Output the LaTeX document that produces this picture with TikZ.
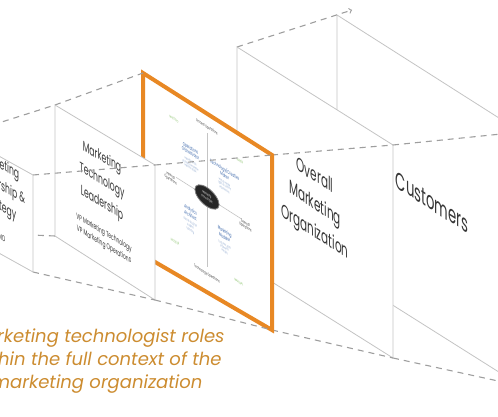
\documentclass[tikz,border=0pt]{standalone}
\usepackage{fontspec}
\setmainfont{Poppins}
\usetikzlibrary{shapes.geometric}
\definecolor{edgegray}{RGB}{196,196,196}
\definecolor{linkgray}{RGB}{158,158,158}
\definecolor{frameorange}{RGB}{232,136,36}
\definecolor{captionorange}{RGB}{204,140,48}
\definecolor{labelblue}{RGB}{52,98,168}
\definecolor{labelgreen}{RGB}{140,196,110}
\definecolor{textgray}{RGB}{55,55,55}
\begin{document}
\begin{tikzpicture}[x=1pt,y=1pt,
	panel/.style={draw=edgegray,fill=white,line width=0.8pt},
	link/.style={draw=linkgray,line width=1.1pt,dash pattern=on 6pt off 5pt},
	onplane/.style={transform shape,cm={0.55,#1,0,1,(0,0)}},
	paneltext/.style={text=textgray,align=center,inner sep=0pt},
	tiny/.style={align=center,inner sep=0pt,transform shape,font=\fontsize{#1}{#1}\selectfont}]
  %ramme
	\useasboundingbox (0,0) rectangle (498,416);
	\clip (0,0) rectangle (498,416);

  %hjoerner
	\coordinate (lead-tl) at (-39,281); \coordinate (lead-tr) at (33,241);
	\coordinate (lead-br) at (33,144);  \coordinate (lead-bl) at (-39,184);
	\coordinate (mtl-tl) at (55,311);   \coordinate (mtl-tr) at (155,251);
	\coordinate (mtl-br) at (155,116);  \coordinate (mtl-bl) at (55,180);
	\coordinate (roles-tl) at (143,343); \coordinate (roles-tr) at (272,261);
	\coordinate (roles-br) at (272,86);  \coordinate (roles-bl) at (143,161);
	\coordinate (org-tl) at (237,369);  \coordinate (org-tr) at (393,271);
	\coordinate (org-br) at (393,58);   \coordinate (org-bl) at (237,156);
	\coordinate (cust-tl) at (337,401); \coordinate (cust-tr) at (521,284);
	\coordinate (cust-br) at (521,30);  \coordinate (cust-bl) at (337,146);
	\coordinate (tip) at (352,406);

  %kunder
	\filldraw[panel] (cust-tl) -- (cust-tr) -- (cust-br) -- (cust-bl) -- cycle;
	\node[paneltext,onplane=-0.35,font=\fontsize{24}{28}\selectfont] (custtxt) at (432,214) {Customers};

  %stiplet kunder-org
	\draw[link,->] (org-tl) -- (tip);
	\draw[link] (org-tr) -- (cust-tr);
	\draw[link] (org-br) -- (cust-br);
	\draw[link] (org-bl) -- (cust-bl);

  %organisation
	\filldraw[panel] (org-tl) -- (org-tr) -- (org-br) -- (org-bl) -- cycle;
	\node[paneltext,onplane=-0.35,font=\fontsize{19}{28}\selectfont] (orgtxt) at (315,211) {Overall\\Marketing\\Organization};

  %stiplet org-roller
	\draw[link] (roles-tr) -- (org-tr);
	\draw[link] (roles-br) -- (org-br);
	\draw[link] (roles-bl) -- (org-bl);

  %roller (orange)
	\filldraw[draw=frameorange,fill=white,line width=4pt,line join=miter] (roles-tl) -- (roles-tr) -- (roles-br) -- (roles-bl) -- cycle;
	\begin{scope}[cm={0.55,-0.35,0,1,(207,219)}]
		\draw[edgegray,line width=0.6pt] (0,64) -- (0,-70);
		\draw[edgegray,line width=0.6pt] (-56,0) -- (62,0);
		\node[ellipse,fill=black!85,draw=gray,line width=0.8pt,minimum width=44,minimum height=19,tiny=3.2,text=white] (hub) at (0,0) {Marketing\\Technologist};
		\node[tiny=4,text=textgray] (top) at (0,70) {Process Operations};
		\node[tiny=4,text=textgray] (bottom) at (0,-77) {Technology Operations};
		\node[tiny=4,text=textgray] (left) at (-66,-4) {Internal\\Operations};
		\node[tiny=4,text=textgray] (right) at (70,-4) {External\\Operations};
		\node[tiny=5,text=labelblue] (q1) at (-30,36) {Operations\\Orchestrator};
		\node[tiny=3,text=labelblue!60] (q1sub) at (-30,22) {marketing ops\\process \& workflow\\martech stack};
		\node[tiny=5,text=labelblue] (q2) at (32,36) {Technology/Creative\\Maker};
		\node[tiny=3,text=labelblue!60] (q2sub) at (32,22) {web \& mobile\\apps \& content\\experiences};
		\node[tiny=5,text=labelblue] (q3) at (-30,-26) {Analytics\\Architect};
		\node[tiny=3,text=labelblue!60] (q3sub) at (-30,-40) {data \& analytics\\insights\\reporting};
		\node[tiny=5,text=labelblue] (q4) at (32,-26) {Marketing\\Modeler};
		\node[tiny=3,text=labelblue!60] (q4sub) at (32,-40) {customer data\\segments\\models};
		\node[tiny=3.5,text=labelgreen] (g1) at (-60,57) {MAESTRO};
		\node[tiny=3.5,text=labelgreen] (g2) at (60,57) {MAKER};
		\node[tiny=3.5,text=labelgreen] (g3) at (-58,-65) {MODELER};
		\node[tiny=3.5,text=labelgreen] (g4) at (58,-65) {MARSHAL};
	\end{scope}

  %stiplet roller-mtl
	\draw[link] (mtl-tl) -- (roles-tl);
	\draw[link] (mtl-tr) -- (roles-tr);
	\draw[link] (mtl-br) -- (roles-br);
	\draw[link] (mtl-bl) -- (roles-bl);

  %marketing technology leadership
	\filldraw[panel] (mtl-tl) -- (mtl-tr) -- (mtl-br) -- (mtl-bl) -- cycle;
	\node[paneltext,onplane=-0.33,font=\fontsize{14}{23}\selectfont] (mtltxt) at (102,235) {Marketing\\Technology\\Leadership};
	\node[paneltext,onplane=-0.33,font=\fontsize{8}{12}\selectfont] (mtlsub) at (104,177) {VP Marketing Technology\\VP Marketing Operations};

  %stiplet mtl-lead
	\draw[link] (lead-tl) -- (mtl-tl);
	\draw[link] (lead-tr) -- (mtl-tr);
	\draw[link] (lead-br) -- (mtl-br);
	\draw[link] (lead-bl) -- (mtl-bl);

  %marketing leadership
	\filldraw[panel] (lead-tl) -- (lead-tr) -- (lead-br) -- (lead-bl) -- cycle;
	\node[paneltext,onplane=-0.31,font=\fontsize{14}{21}\selectfont] (leadtxt) at (0,230) {Marketing\\Leadership \&\\Strategy};
	\node[paneltext,onplane=-0.31,font=\fontsize{8}{10}\selectfont] (leadsub) at (0,179) {CMO};

  %tekst
	\node[align=center,inner sep=0pt,text=captionorange,font=\itshape\fontsize{18}{23}\selectfont] (caption) at (97,55) {Marketing technologist roles\\within the full context of the\\marketing organization};
\end{tikzpicture}
\end{document}
